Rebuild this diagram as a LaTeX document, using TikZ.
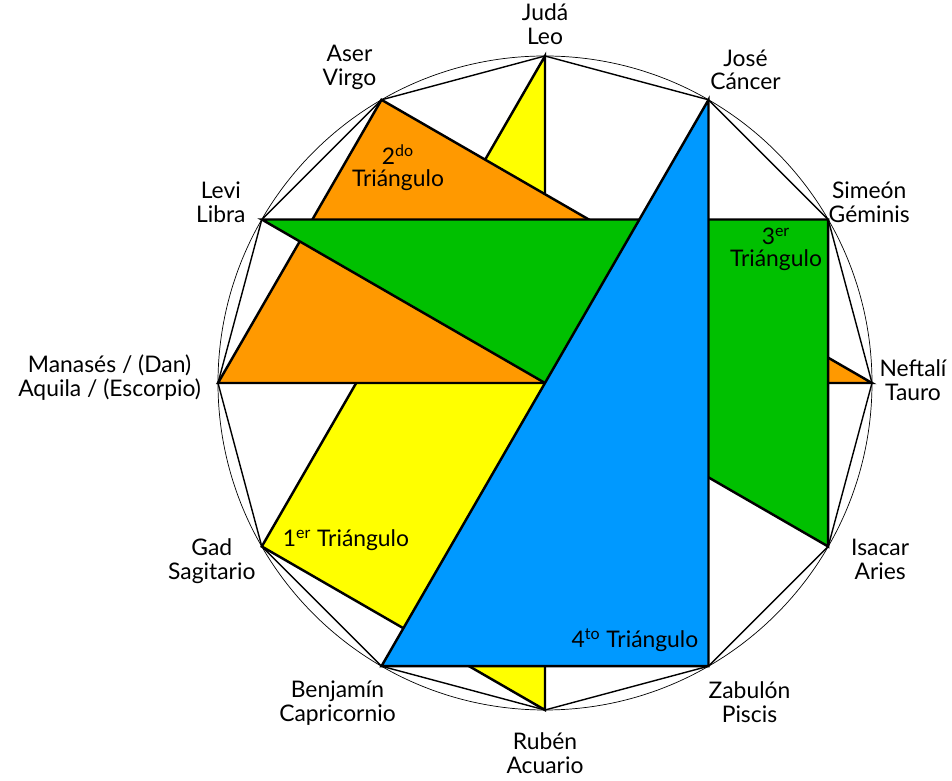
\documentclass[tikz,border=0pt]{standalone}
\usepackage{fontspec}
\setmainfont{Lato}
\usetikzlibrary{positioning}
\definecolor{triyellow}{RGB}{255,255,0}
\definecolor{triorange}{RGB}{255,153,0}
\definecolor{trigreen}{RGB}{0,192,0}
\definecolor{triblue}{RGB}{0,153,255}
\tikzset{every node/.style={inner sep=1pt}}
\tikzstyle{tri} = [draw, line width=1.4pt]
\tikzstyle{tribe} = [align=center, font=\fontsize{13}{13.6}\selectfont]
\tikzstyle{tritext} = [align=center, font=\fontsize{13}{12.5}\selectfont]

\begin{document}
\begin{tikzpicture}
    \useasboundingbox (-10.9,-7.96) rectangle (8.14,7.66);
    \foreach \name/\ang in {juda/90, jose/60, simeon/30, neftali/0, isacar/-30,
        zabulon/-60, ruben/-90, benjamin/-120, gad/-150, manases/180, levi/150, aser/120}
        \coordinate (\name) at (\ang:6.54);
    \draw [line width=0.4pt] (0,0) circle (6.54);
    \draw [line width=0.8pt] (juda) -- (jose) -- (simeon) -- (neftali) -- (isacar)
        -- (zabulon) -- (ruben) -- (benjamin) -- (gad) -- (manases) -- (levi) -- (aser) -- cycle;
    % the four triangles
    \path [tri, fill=triyellow] (juda) -- (gad) -- (ruben) -- cycle;
    \path [tri, fill=triorange] (aser) -- (manases) -- (neftali) -- cycle;
    \path [tri, fill=trigreen] (levi) -- (simeon) -- (isacar) -- cycle;
    \path [tri, fill=triblue] (jose) -- (benjamin) -- (zabulon) -- cycle;
    % tribes and signs
    \node [tribe] (judaL) at ([shift={(0,0.64)}]juda) {Judá\\Leo};
    \node [tribe] (joseL) at ([shift={(0.74,0.6)}]jose) {José\\Cáncer};
    \node [tribe] (simeonL) at ([shift={(0.82,0.34)}]simeon) {Simeón\\Géminis};
    \node [tribe] (neftaliL) at ([shift={(0.82,0.06)}]neftali) {Neftalí\\Tauro};
    \node [tribe] (isacarL) at ([shift={(1.04,-0.26)}]isacar) {Isacar\\Aries};
    \node [tribe] (zabulonL) at ([shift={(0.82,-0.72)}]zabulon) {Zabulón\\Piscis};
    \node [tribe] (rubenL) at ([shift={(0,-0.86)}]ruben) {Rubén\\Acuario};
    \node [tribe] (benjaminL) at ([shift={(-0.88,-0.74)}]benjamin) {Benjamín\\Capricornio};
    \node [tribe] (gadL) at ([shift={(-1,-0.3)}]gad) {Gad\\Sagitario};
    \node [tribe, anchor=east] (manasesL) at ([shift={(-0.3,0.1)}]manases) {Manasés / (Dan)\\Aquila / (Escorpio)};
    \node [tribe] (leviL) at ([shift={(-0.82,0.34)}]levi) {Levi\\Libra};
    \node [tribe] (aserL) at ([shift={(-0.64,0.64)}]aser) {Aser\\Virgo};
    % triangle names
    \node [tritext] (firstT) at (-3.98,-3.14) {1\textsuperscript{er} Triángulo};
    \node [tritext] (secondT) at (-2.94,4.3) {2\textsuperscript{do}\\Triángulo};
    \node [tritext] (thirdT) at (4.62,2.68) {3\textsuperscript{er}\\Triángulo};
    \node [tritext] (fourthT) at (1.8,-5.14) {4\textsuperscript{to} Triángulo};
\end{tikzpicture}
\end{document}
